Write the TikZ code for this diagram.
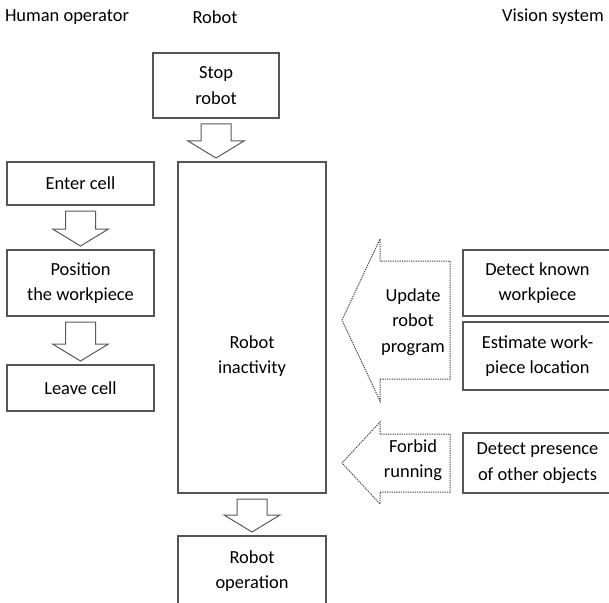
\documentclass[tikz,border=0pt]{standalone}
\usepackage{fontspec}
\setmainfont{Carlito}
\usetikzlibrary{calc}
\definecolor{boxgray}{HTML}{555555}
\definecolor{arrgray}{HTML}{5A5A5A}
\definecolor{dotgray}{HTML}{484848}
\tikzset{
  box/.style={draw=boxgray, line width=1.2bp, inner sep=0pt, outer sep=0pt, align=center, text=black, fill=white},
  blockarrow/.style={draw=arrgray, line width=1bp, fill=white, line join=miter},
  dotarrow/.style={draw=dotgray, line width=1bp, dash pattern=on 1.3bp off 1bp, line join=miter},
  lbl/.style={align=center, inner sep=0pt, text=black},
}
\newcommand{\blockdown}[2]{%
  \coordinate (s) at ($(#1.south)+(0,6)$);
  \coordinate (t) at ($(s |- #2.north)+(0,-4)$);
  \coordinate (hb) at ($(t)+(0,-17)$);
  \draw[blockarrow] ($(s)+(-15,0)$) -- ($(s)+(15,0)$) -- ($(hb)+(15,0)$) -- ($(hb)+(28,0)$) -- (t)
     -- ($(hb)+(-28,0)$) -- ($(hb)+(-15,0)$) -- cycle;}
% #1 from node (right), #2 to node (left), #3 centre y coordinate, #4 shaft half, #5 head half
\newcommand{\blockleft}[5]{%
  \coordinate (t) at ($(#2.east |- #3)+(16,0)$);
  \coordinate (r) at ($(#1.west |- #3)+(-13,0)$);
  \coordinate (hb) at ($(t)+(38,0)$);
  \draw[dotarrow] (t) -- ($(hb)+(0,-#5)$) -- ($(hb)+(0,-#4)$) -- ($(r)+(0,-#4)$) -- ($(r)+(0,#4)$)
     -- ($(hb)+(0,#4)$) -- ($(hb)+(0,#5)$) -- cycle;}
\begin{document}
\begin{tikzpicture}[x=1bp,y=-1bp,font=\fontsize{18.5}{25.5}\selectfont]
\useasboundingbox (0,0) rectangle (609,603);
\clip (0,0) rectangle (609,603);
% headers
\node[lbl] (hh) at (67,17) {Human operator};
\node[lbl] (hr) at (215,17) {Robot};
\node[lbl] (hv) at (553,17) {Vision system};
% human column
\node[box, minimum width=147bp, minimum height=43bp] (enter) at (80.5,183.5) {Enter cell};
\node[box, minimum width=147bp, minimum height=66bp] (pos) at (80.5,283) {Position\\the workpiece};
\node[box, minimum width=147bp, minimum height=46bp] (leave) at (80.5,388) {Leave cell};
% robot column
\node[box, minimum width=126bp, minimum height=65bp] (stop) at (216,85.5) {Stop\\robot};
\node[box, minimum width=148bp, minimum height=331bp] (inact) at (252,327.5) {};
\node[lbl] (inacttxt) at (252,356) {Robot\\inactivity};
\node[box, minimum width=148bp, minimum height=70bp] (oper) at (252,571) {Robot\\operation};
% vision column
\node[box, minimum width=149bp, minimum height=66bp] (dk) at (537.5,283) {Detect known\\workpiece};
\node[box, minimum width=149bp, minimum height=68bp] (est) at (537.5,356) {Estimate work-\\piece location};
\node[box, minimum width=149bp, minimum height=60bp] (dp) at (537.5,463) {Detect presence\\of other objects};
% block arrows
\blockdown{enter}{pos}
\blockdown{pos}{leave}
\blockdown{stop}{inact}
\blockdown{inact}{oper}
\coordinate (updc) at ($(dk.north)!0.5!(est.south)$);
\blockleft{dk}{inact}{updc}{59}{81}
\node[lbl] (updtxt) at ($(r)+(-37,2)$) {Update\\robot\\program};
\coordinate (forc) at (dp.west);
\blockleft{dp}{inact}{forc}{29}{41}
\node[lbl] (fortxt) at ($(r)+(-37,-3)$) {Forbid\\running};
\end{tikzpicture}
\end{document}
